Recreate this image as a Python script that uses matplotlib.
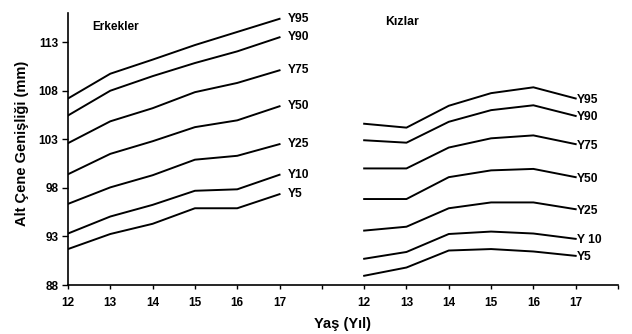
import numpy as np
import matplotlib.pyplot as plt

plt.rcParams['font.family'] = ['Liberation Sans', 'DejaVu Sans']
plt.rcParams['font.weight'] = 'bold'

ages = [12, 13, 14, 15, 16, 17]
percentiles = ['Y95', 'Y90', 'Y75', 'Y50', 'Y25', 'Y10', 'Y5']
girl_names = ['Y95', 'Y90', 'Y75', 'Y50', 'Y25', 'Y 10', 'Y5']

# Erkekler (boys)
boys = [
    [107.2, 109.75, 111.2, 112.7, 114.05, 115.4],
    [105.45, 108.0, 109.5, 110.85, 112.05, 113.5],
    [102.6, 104.85, 106.2, 107.85, 108.8, 110.1],
    [99.4, 101.5, 102.8, 104.25, 104.95, 106.4],
    [96.35, 98.05, 99.3, 100.9, 101.3, 102.5],
    [93.3, 95.05, 96.25, 97.7, 97.85, 99.35],
    [91.7, 93.25, 94.3, 95.9, 95.9, 97.35],
]

# Kızlar (girls)
girls = [
    [104.6, 104.2, 106.45, 107.75, 108.35, 107.2],
    [102.9, 102.65, 104.8, 106.0, 106.5, 105.4],
    [100.0, 100.0, 102.15, 103.1, 103.4, 102.5],
    [96.85, 96.85, 99.1, 99.8, 99.95, 99.1],
    [93.6, 94.0, 95.9, 96.5, 96.5, 95.8],
    [90.7, 91.4, 93.25, 93.5, 93.3, 92.75],
    [88.95, 89.8, 91.55, 91.7, 91.45, 91.0],
]

yticks = [88, 93, 98, 103, 108, 113]

fig = plt.figure(figsize=(6.32, 3.34), dpi=100)
ax = fig.add_axes([68/632, 1-285/334, 550/632, 272/334])

xb = np.arange(len(ages))
xg = xb + 7

for name, vals in zip(percentiles, boys):
    ax.plot(xb, vals, color='black', lw=1.4)
    ax.annotate(name, (xb[-1], vals[-1]), xytext=(6, 0), textcoords='offset points',
                va='center', ha='left', fontsize=8.7, fontweight='bold')

for name, vals in zip(girl_names, girls):
    ax.plot(xg, vals, color='black', lw=1.4)
    ax.annotate(name, (xg[-1], vals[-1]), xytext=(1, -1), textcoords='offset points',
                va='center', ha='left', fontsize=8.7, fontweight='bold')

ax.set_xlim(0, 13)
ax.set_ylim(88, 116)
ax.set_xticks(np.arange(14))
ax.set_xticklabels([str(a) for a in ages] + [''] + [str(a) for a in ages] + [''])
ax.set_yticks(yticks)
ax.tick_params(labelsize=8.5, width=1)
ax.tick_params(axis='x', length=3, pad=6)
ax.tick_params(axis='y', length=4, pad=3)
for lab in ax.get_xticklabels() + ax.get_yticklabels():
    lab.set_fontweight('bold')

for s in ['top', 'right']:
    ax.spines[s].set_visible(False)
for s in ['left', 'bottom']:
    ax.spines[s].set_linewidth(1.2)

ax.text(0.57, 114.6, 'Erkekler', fontsize=8.5, fontweight='bold', ha='left', va='center')
ax.text(7.5, 115.1, 'Kızlar', fontsize=8.8, fontweight='bold', ha='left', va='center')

fig.text(343/632, 1-324/334, 'Yaş (Yıl)', fontsize=10.5, fontweight='bold',
         ha='center', va='center')
fig.text(22/632, 1-143/334, 'Alt Çene Genişliği (mm)', fontsize=10.5, fontweight='bold',
         ha='center', va='center', rotation=90)

fig.savefig('out.png', dpi=100)
